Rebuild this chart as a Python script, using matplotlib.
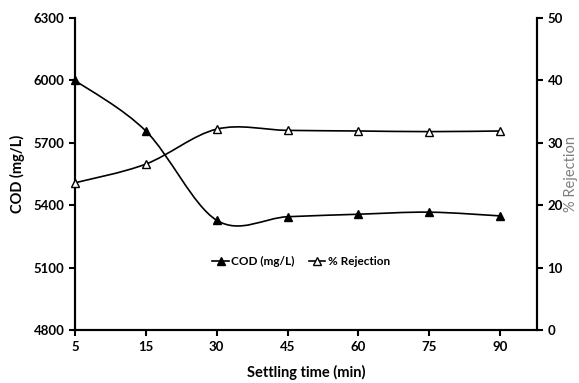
import matplotlib
matplotlib.use("Agg")
import matplotlib.pyplot as plt
from matplotlib.path import Path
from matplotlib.patches import PathPatch
from matplotlib.lines import Line2D

# ── Data ───────────────────────────────────────────────────────────────────────
settling_time = ["5", "15", "30", "45", "60", "75", "90"]
cod_mgL       = [6000, 5757, 5328, 5345, 5357, 5367, 5349]
rejection_pct = [23.6, 26.6, 32.2, 32.0, 31.9, 31.8, 31.9]

plt.rcParams["font.family"] = ["Lato", "DejaVu Sans"]


def smooth_path(xs, ys):
    """Excel-style smoothed line as a cubic Bezier path."""
    pts = list(zip(xs, ys))
    verts, codes = [pts[0]], [Path.MOVETO]
    n = len(pts)
    for i in range(n - 1):
        p0 = pts[i - 1] if i > 0 else pts[i]
        p1, p2 = pts[i], pts[i + 1]
        p3 = pts[i + 2] if i + 2 < n else pts[i + 1]
        c1 = (p1[0] + (p2[0] - p0[0]) / 6, p1[1] + (p2[1] - p0[1]) / 6)
        c2 = (p2[0] - (p3[0] - p1[0]) / 6, p2[1] - (p3[1] - p1[1]) / 6)
        verts += [c1, c2, p2]
        codes += [Path.CURVE4] * 3
    return Path(verts, codes)


fig = plt.figure(figsize=(5.79, 3.83), dpi=100)
ax = fig.add_axes([0.1295, 0.138, 0.798, 0.815])
ax2 = ax.twinx()

x = list(range(len(settling_time)))

ax.add_patch(PathPatch(smooth_path(x, cod_mgL), fill=False, lw=1.2, color="black"))
ax.plot(x, cod_mgL, ls="none", marker="^", ms=6, color="black", clip_on=False, zorder=4)

ax2.add_patch(PathPatch(smooth_path(x, rejection_pct), fill=False, lw=1.2, color="black"))
ax2.plot(x, rejection_pct, ls="none", marker="^", ms=6, mfc="white", mec="black",
         mew=1.0, clip_on=False, zorder=4)

ax.set_xlim(0, 6.52)
ax.set_ylim(4800, 6300)
ax.set_yticks(range(4800, 6301, 300))
ax2.set_ylim(0, 50)
ax2.set_yticks(range(0, 51, 10))
ax.set_xticks(x)
ax.set_xticklabels(settling_time)

for a in (ax, ax2):
    for s in a.spines.values():
        s.set_linewidth(1.5)
    a.spines["top"].set_visible(False)
    a.tick_params(direction="out", length=4, width=1.5, labelsize=9.5)
    for lbl in a.get_xticklabels() + a.get_yticklabels():
        lbl.set_fontweight("bold")

ax.set_ylabel("COD (mg/L)", fontsize=10.5, fontweight="bold", labelpad=6)
ax.set_xlabel("Settling time (min)", fontsize=10.5, fontweight="bold", labelpad=9)
ax2.set_ylabel("% Rejection", fontsize=10.5, color="#7f7f7f", labelpad=1)

handles = [
    Line2D([], [], color="black", lw=1.2, marker="^", ms=6),
    Line2D([], [], color="black", lw=1.2, marker="^", ms=6, mfc="white"),
]
fig.legend(handles, ["COD (mg/L)", "% Rejection"], loc="center",
           bbox_to_anchor=(0.52, 0.316), ncol=2, frameon=False,
           prop={"size": 8.5, "weight": "bold"}, handlelength=1.4,
           handletextpad=0.2, columnspacing=1.2)

fig.savefig("out.png", dpi=100)
